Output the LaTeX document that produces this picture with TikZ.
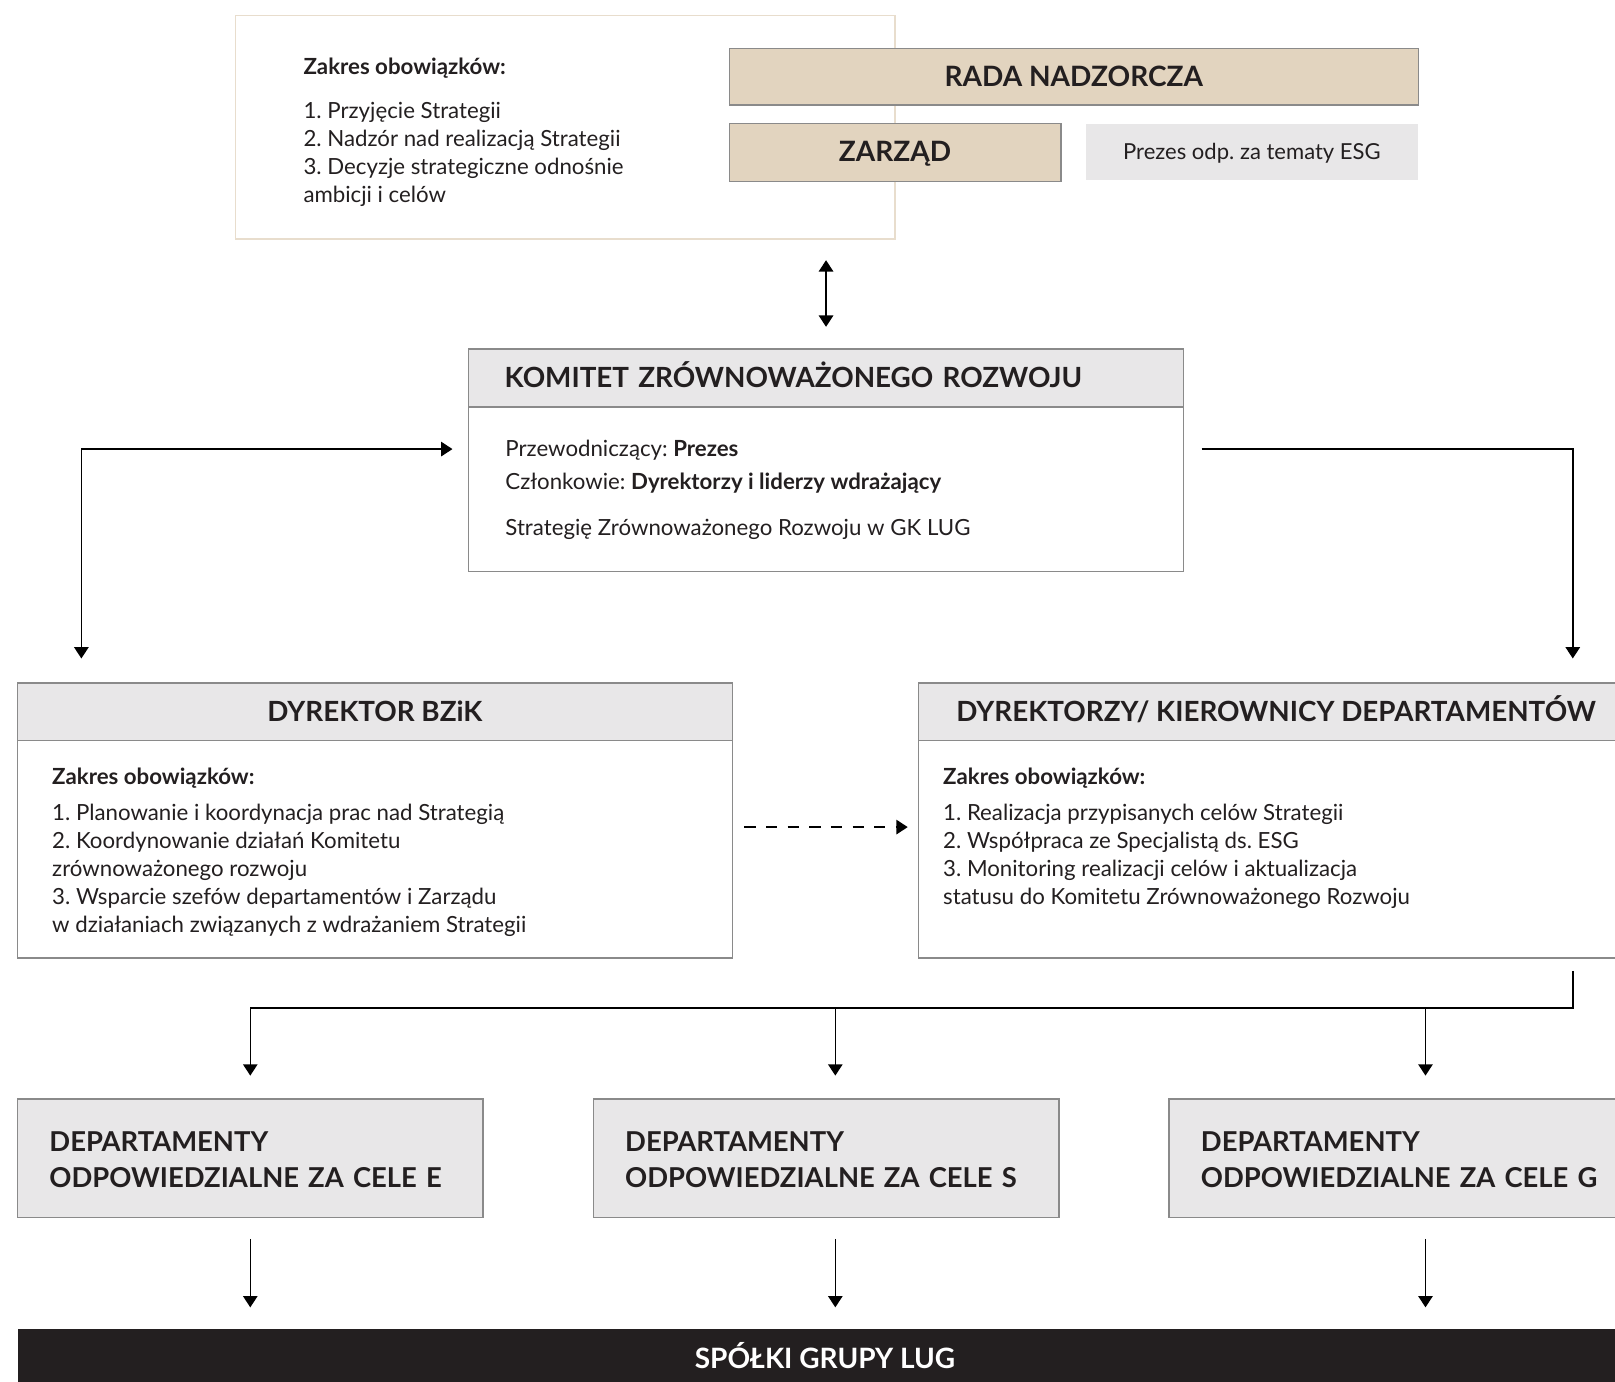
\documentclass[tikz,border=0pt]{standalone}
\usepackage{fontspec}
\setmainfont{Lato}
\usetikzlibrary{arrows.meta}
\definecolor{ink}{HTML}{231F20}
\definecolor{beige}{HTML}{E2D4BF}
\definecolor{framebeige}{HTML}{E8DDCD}
\definecolor{headgray}{HTML}{E8E7E8}
\definecolor{boxgray}{HTML}{8A8A8A}
\frenchspacing
\begin{document}
\begin{tikzpicture}[x=0.5pt,y=-0.5pt,line width=0.7pt,>={Triangle[width=7pt,length=5.5pt]},
  every node/.style={text=ink,inner sep=0pt},
  caps/.style={text height=0.92em,text depth=0pt},
  beigebox/.style={draw=boxgray,fill=beige,caps,font=\bfseries\fontsize{13.6}{16}\selectfont},
  head/.style={draw=boxgray,fill=headgray,minimum width=347pt,minimum height=28pt,caps,font=\bfseries\fontsize{13.5}{16}\selectfont},
  body/.style={draw=boxgray,fill=white,minimum width=347pt},
  txt/.style={anchor=base west,align=left,font=\fontsize{10.8}{13.5}\selectfont},
  dept/.style={draw=boxgray,fill=headgray,minimum width=226pt,minimum height=57.5pt,text width=195pt,text height=11.5pt,inner xsep=15.5pt,align=left,font=\bfseries\fontsize{13.3}{17.5}\selectfont}]
\useasboundingbox (0,0) rectangle (1568,1341);
\node (zakresrn) at (549,123.5) [draw=framebeige,line width=0.6pt,minimum width=320pt,minimum height=108.5pt] {};
\node (obowrn) at (294,197) [txt,font=\fontsize{10.8}{13.65}\selectfont] {\textbf{Zakres obowiązków:}\\[7.5pt]1. Przyjęcie Strategii\\2. Nadzór nad realizacją Strategii\\3. Decyzje strategiczne odnośnie\\ambicji i celów};
\node (rada) at (1042.5,74.5) [beigebox,minimum width=334.5pt,minimum height=27.5pt] {RADA NADZORCZA};
\node (zarzad) at (869,148) [beigebox,minimum width=161pt,minimum height=28pt] {ZARZĄD};
\node (prezes) at (1215.5,147.5) [fill=headgray,minimum width=161.5pt,minimum height=27.5pt,text height=0.76em,text depth=0pt,font=\fontsize{10.7}{12}\selectfont] {Prezes odp. za tematy ESG};

\node (kzr) at (802,447) [body,minimum height=108pt] {};
\node (kzrhead) at (kzr.north) [head,anchor=north,text width=312pt,inner xsep=17.5pt,align=left] {KOMITET ZRÓWNOWAŻONEGO ROZWOJU};
\node (kzrtxt) at (490,520) [txt,font=\fontsize{10.8}{16}\selectfont] {Przewodniczący: \textbf{Prezes}\\Członkowie: \textbf{Dyrektorzy i liderzy wdrażający}\\[6.5pt]Strategię Zrównoważonego Rozwoju w GK LUG};

\node (bzik) at (364,796.5) [body,minimum height=133.5pt] {};
\node (bzikhead) at (bzik.north) [head,anchor=north] {DYREKTOR BZiK};
\node (bziktxt) at (50,905) [txt] {\textbf{Zakres obowiązków:}\\[4pt]1. Planowanie i koordynacja prac nad Strategią\\2. Koordynowanie działań Komitetu\\zrównoważonego rozwoju\\3. Wsparcie szefów departamentów i Zarządu\\w działaniach związanych z wdrażaniem Strategii};
\node (dyr) at (1239,796.5) [body,minimum height=133.5pt] {};
\node (dyrhead) at (dyr.north) [head,anchor=north] {DYREKTORZY/ KIEROWNICY DEPARTAMENTÓW};
\node (dyrtxt) at (915,878) [txt] {\textbf{Zakres obowiązków:}\\[4pt]1. Realizacja przypisanych celów Strategii\\2. Współpraca ze Specjalistą ds. ESG\\3. Monitoring realizacji celów i aktualizacja\\statusu do Komitetu Zrównoważonego Rozwoju};

\node (depe) at (243,1124.5) [dept] {DEPARTAMENTY\\ODPOWIEDZIALNE ZA CELE E};
\node (deps) at (802,1124.5) [dept] {DEPARTAMENTY\\ODPOWIEDZIALNE ZA CELE S};
\node (depg) at (1361,1124.5) [dept] {DEPARTAMENTY\\ODPOWIEDZIALNE ZA CELE G};
\node (lug) at (801,1319) [fill=ink,text=white,minimum width=784pt,minimum height=29pt,caps,font=\bfseries\fontsize{13.6}{16}\selectfont] {SPÓŁKI GRUPY LUG};

\draw[<->,shorten <=10pt,shorten >=10.5pt] (kzr.north |- zakresrn.south) -- (kzr.north);
\draw[<->] ([xshift=-7.5pt,yshift=5.5pt]kzr.west) -| ([xshift=-142.5pt,yshift=11.5pt]bzik.north);
\draw[->] ([xshift=8.5pt,yshift=5.5pt]kzr.east) -| ([xshift=144pt,yshift=11.5pt]dyr.north);
\draw[->,dash pattern=on 5.5pt off 5pt] ([xshift=5.5pt,yshift=-3.25pt]bzik.east) -- ([xshift=-5pt,yshift=-3.25pt]dyr.west);
\coordinate (bus) at ([xshift=144pt,yshift=-24pt]dyr.south);
\draw ([yshift=18pt]bus) -- (bus) -- (bus -| depe.north);
\draw[->,shorten >=11pt] (depe.north |- bus) -- (depe.north); \draw[->,shorten >=11pt] ([xshift=4.5pt]deps.north |- bus) -- ([xshift=4.5pt]deps.north);
\draw[->,shorten >=11pt] ([xshift=11.5pt]depg.north |- bus) -- ([xshift=11.5pt]depg.north);
\draw[->,shorten <=10pt,shorten >=10pt] (depe.south) -- (depe.south |- lug.north); \draw[->,shorten <=10pt,shorten >=10pt] ([xshift=4.5pt]deps.south) -- ([xshift=4.5pt]deps.south |- lug.north);
\draw[->,shorten <=10pt,shorten >=10pt] ([xshift=11.5pt]depg.south) -- ([xshift=11.5pt]depg.south |- lug.north);
\end{tikzpicture}
\end{document}
